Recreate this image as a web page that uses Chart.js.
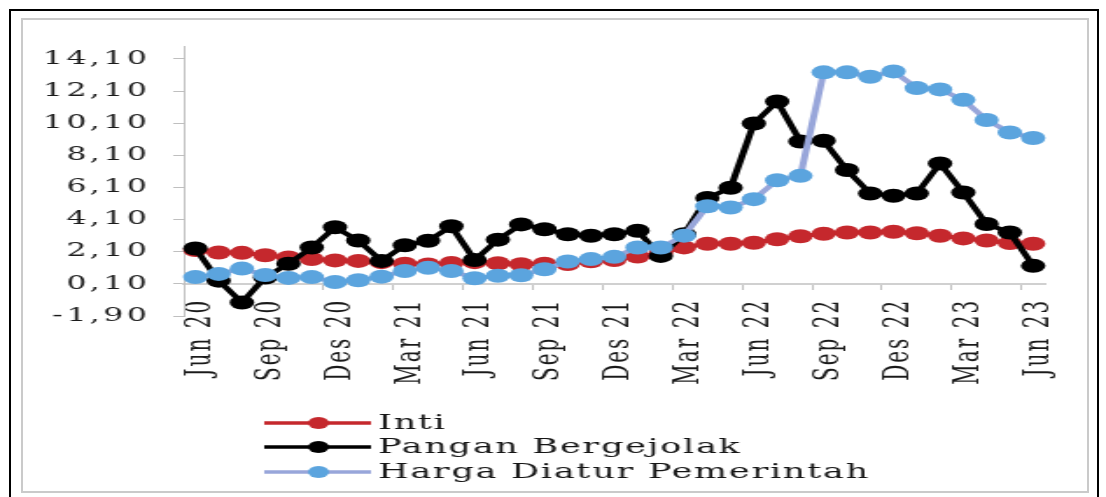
<!DOCTYPE html>
<html>
<head>
<meta charset="utf-8">
<script src="https://cdn.jsdelivr.net/npm/chart.js@4.4.1/dist/chart.umd.min.js"></script>
<style>
  html, body { margin: 0; padding: 0; background: #fff; }
  body { width: 1106px; height: 497px; position: relative; overflow: hidden; }
  /* bingkai luar hitam + bingkai dalam abu-abu */
  #frameOuter { position: absolute; left: 9px; top: 9px; width: 1086px; height: 500px; border: 2px solid #000; }
  #frameInner { position: absolute; left: 21px; top: 18px; width: 1064px; height: 471px; border: 2px solid #cacaca; }
  /* gambar asli melebar horizontal, jadi kanvas ikut diregang */
  #wrap { position: absolute; left: 0; top: 0; width: 632px; height: 497px; transform: scaleX(1.75); transform-origin: 0 0; }
</style>
</head>
<body>
<div id="frameOuter"></div>
<div id="frameInner"></div>
<div id="wrap"><canvas id="inflasiChart" width="632" height="497"></canvas></div>

<script>
// ── Data (Jun 20 – Jun 23, bulanan) ──
const months = [
  'Jun 20', 'Jul 20', 'Agu 20', 'Sep 20', 'Okt 20', 'Nov 20', 'Des 20',
  'Jan 21', 'Feb 21', 'Mar 21', 'Apr 21', 'Mei 21', 'Jun 21', 'Jul 21', 'Agu 21', 'Sep 21', 'Okt 21', 'Nov 21', 'Des 21',
  'Jan 22', 'Feb 22', 'Mar 22', 'Apr 22', 'Mei 22', 'Jun 22', 'Jul 22', 'Agu 22', 'Sep 22', 'Okt 22', 'Nov 22', 'Des 22',
  'Jan 23', 'Feb 23', 'Mar 23', 'Apr 23', 'Mei 23', 'Jun 23'
];
const seriesNames = ['Inti', 'Pangan Bergejolak', 'Harga Diatur Pemerintah'];

const inti = [
  2.20, 2.05, 2.03, 1.88, 1.74, 1.65, 1.56,
  1.53, 1.45, 1.35, 1.30, 1.40, 1.45, 1.38, 1.32, 1.35, 1.33, 1.50, 1.58,
  1.80, 2.00, 2.37, 2.60, 2.60, 2.66, 2.88, 3.06, 3.22, 3.30, 3.30, 3.34,
  3.25, 3.09, 2.93, 2.80, 2.64, 2.60
];
const pangan = [
  2.30, 0.30, -1.06, 0.50, 1.35, 2.36, 3.62,
  2.80, 1.53, 2.50, 2.78, 3.68, 1.58, 2.85, 3.80, 3.50, 3.19, 3.09, 3.19,
  3.40, 1.84, 3.19, 5.45, 6.08, 10.08, 11.45, 8.96, 9.00, 7.18, 5.72, 5.58,
  5.72, 7.59, 5.78, 3.82, 3.30, 1.22
];
const harga = [
  0.52, 0.72, 1.05, 0.65, 0.47, 0.52, 0.22,
  0.32, 0.55, 0.90, 1.10, 0.90, 0.45, 0.60, 0.64, 1.01, 1.49, 1.64, 1.78,
  2.36, 2.36, 3.10, 4.93, 4.85, 5.37, 6.55, 6.82, 13.26, 13.26, 12.99, 13.32,
  12.28, 12.20, 11.55, 10.30, 9.52, 9.18
];

const yTicks      = [-1.9, 0.1, 2.1, 4.1, 6.1, 8.1, 10.1, 12.1, 14.1];
const yTickLabels = ['-1,90', '0,10', '2,10', '4,10', '6,10', '8,10', '10,10', '12,10', '14,10'];

const FONT = '"DejaVu Serif", "Liberation Serif", serif';
const AXIS_GRAY = '#bfbfbf';

/* ── Spasi huruf: teks asli lebih renggang ── */
const letterSpacing = {
  id: 'letterSpacing',
  beforeDraw(chart) { chart.ctx.letterSpacing = '2px'; },
  beforeDatasetsDraw(chart) { chart.ctx.letterSpacing = '0px'; }
};

/* ── Legend: garis + titik, tersusun ke bawah ── */
const LEGEND_Y = [423, 447, 472];
const stackedLegend = {
  id: 'stackedLegend',
  afterDraw(chart) {
    const ctx = chart.ctx;
    chart.data.datasets.forEach((ds, i) => {
      const y = LEGEND_Y[i];
      ctx.save();
      ctx.strokeStyle = ds.borderColor;
      ctx.lineWidth = 3.5;
      ctx.beginPath();
      ctx.moveTo(151, y);
      ctx.lineTo(212, y);
      ctx.stroke();
      ctx.fillStyle = ds.pointBackgroundColor;
      ctx.beginPath();
      ctx.arc(182, y, 6, 0, Math.PI * 2);
      ctx.fill();
      ctx.fillStyle = '#151515';
      ctx.font = '20px ' + FONT;
      ctx.letterSpacing = '1px';
      ctx.textBaseline = 'middle';
      ctx.fillText(ds.label, 216, y + 1);
      ctx.restore();
    });
  }
};

function lineSet(label, data, line, dot, order) {
  return {
    label, data, order,
    borderColor: line,
    backgroundColor: dot,
    pointBackgroundColor: dot,
    pointBorderColor: dot,
    pointBorderWidth: 0,
    pointRadius: 7,
    borderWidth: 4,
    tension: 0
  };
}

new Chart(document.getElementById('inflasiChart'), {
  type: 'line',
  data: {
    labels: months,
    datasets: [
      lineSet(seriesNames[0], inti,   '#c5282d', '#c5282d', 3),
      lineSet(seriesNames[1], pangan, '#000000', '#000000', 2),
      lineSet(seriesNames[2], harga,  '#98a6da', '#5ba4de', 1)
    ]
  },
  options: {
    responsive: false,
    animation: false,
    layout: { padding: { left: 0, right: 35, top: 46, bottom: 181 } },
    plugins: { legend: { display: false }, tooltip: { enabled: false } },
    scales: {
      x: {
        type: 'category',
        position: { y: 0.1 },
        offset: true,
        grid: {
          offset: true,
          drawOnChartArea: false,
          tickLength: 5,
          tickColor: c => (c.index % 3 === 0 ? AXIS_GRAY : 'rgba(0,0,0,0)')
        },
        border: { color: '#d0d0d0', width: 2 },
        ticks: {
          autoSkip: false,
          minRotation: 90,
          maxRotation: 90,
          padding: 10,
          labelOffset: 3,
          color: '#1a1a1a',
          font: { family: FONT, size: 20 },
          callback: (v, i) => (i % 3 === 0 ? months[i] : '')
        }
      },
      y: {
        min: -1.9,
        max: 14.9,
        afterBuildTicks: s => { s.ticks = yTicks.map(v => ({ value: v })); },
        afterFit: s => { s.width = 105; },
        grid: { drawOnChartArea: false, tickLength: 6, tickColor: AXIS_GRAY },
        border: { color: AXIS_GRAY, width: 1 },
        ticks: {
          padding: 13,
          color: '#1a1a1a',
          font: { family: FONT, size: 18 },
          callback: (v, i) => yTickLabels[i]
        }
      }
    }
  },
  plugins: [letterSpacing, stackedLegend]
});
</script>
</body>
</html>
